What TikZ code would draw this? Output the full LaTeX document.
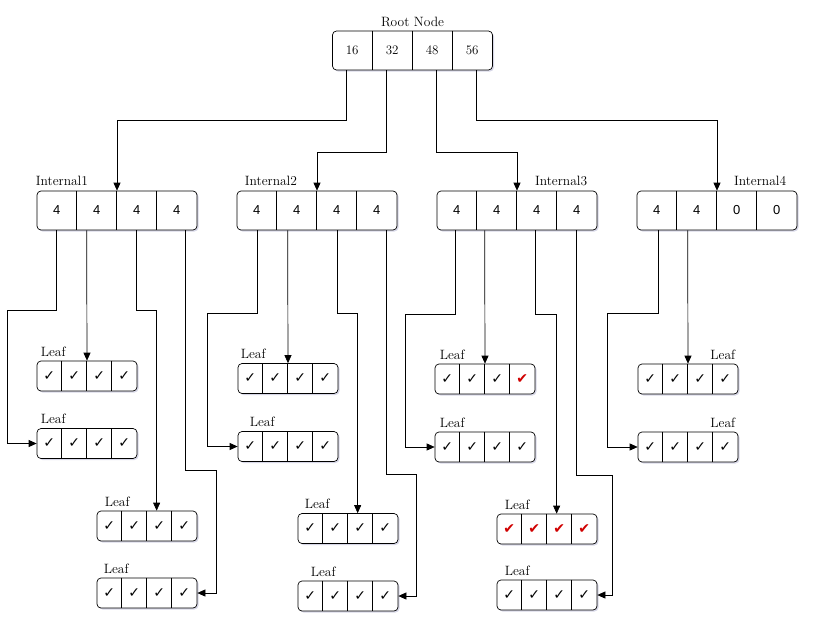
\documentclass[tikz,border=0pt]{standalone}
\usepackage{fontspec}
\newfontfamily\symfont{DejaVu Sans}
\newfontfamily\numfont{Liberation Sans}
\usetikzlibrary{positioning}
\usetikzlibrary{arrows.meta}
\usetikzlibrary{shadows}
\definecolor{hitred}{HTML}{D00000}
\newcommand{\ok}{{\symfont\char"2713}}
\newcommand{\hit}{{\symfont\color{hitred}\char"2714}}
% cells of a key box: node, cell width, cell style, entries
\newcommand{\cellrow}[4]{%
  \foreach \v [count=\k] in {#4} {
    \node[#3] (#1-\k) at ([xshift=(\k-0.5)*#2]#1.west) {\v};
    \ifnum\k>1 \draw[sep] ([xshift=(\k-1)*#2]#1.north west) -- ([xshift=(\k-1)*#2]#1.south west); \fi
  }}
\tikzstyle{box} = [draw, line width=0.7pt, rounded corners=4pt, inner sep=0pt, fill=white, drop shadow={opacity=0.25, shadow xshift=1.5pt, shadow yshift=-1.5pt, fill=blue!25!gray}]
\tikzstyle{keys} = [box, minimum width=160pt, minimum height=39pt]
\tikzstyle{leaf} = [box, minimum width=100pt, minimum height=30pt]
\tikzstyle{rootcell} = [inner sep=0pt, font=\fontsize{13}{15}\selectfont]
\tikzstyle{numcell} = [inner sep=0pt, font=\numfont\fontsize{13}{15}\selectfont]
\tikzstyle{okcell} = [inner sep=0pt, font=\fontsize{14}{16}\selectfont]
\tikzstyle{tag} = [inner sep=0pt, font=\fontsize{13.5}{16}\selectfont]
\tikzstyle{sep} = [draw, line width=0.7pt]
\tikzstyle{link} = [draw, line width=0.7pt, -{Triangle[length=8pt,width=7pt]}]

\begin{document}
\begin{tikzpicture}[x=1pt, y=-1pt]
    \useasboundingbox (0,0) rectangle (814,625);

    % root and internal nodes
    \node[keys] (root) at (412.5,50.5) {};
    \node[keys] (in1) at (117,210.5) {};
    \node[keys] (in2) at (317,210.5) {};
    \node[keys] (in3) at (517,210.5) {};
    \node[keys] (in4) at (717,210.5) {};
    \cellrow{root}{40pt}{rootcell}{16,32,48,56}
    \cellrow{in1}{40pt}{numcell}{4,4,4,4}
    \cellrow{in2}{40pt}{numcell}{4,4,4,4}
    \cellrow{in3}{40pt}{numcell}{4,4,4,4}
    \cellrow{in4}{40pt}{numcell}{4,4,0,0}

    \node[tag, above=4pt of root] (troot) {Root Node};
    \node[tag, above right=5pt and -1pt of in1.north west] (tin1) {Internal1};
    \node[tag, above right=5pt and 8pt of in2.north west] (tin2) {Internal2};
    \node[tag, above left=5pt and 10pt of in3.north east] (tin3) {Internal3};
    \node[tag, above left=5pt and 11pt of in4.north east] (tin4) {Internal4};

    % leaves
    \node[leaf] (l1a) at (87,376) {};
    \node[leaf] (l1b) at (87,443.5) {};
    \node[leaf] (l1c) at (147,526) {};
    \node[leaf] (l1d) at (147,593) {};
    \node[leaf] (l2a) at (288,378.5) {};
    \node[leaf] (l2b) at (288,446.5) {};
    \node[leaf] (l2c) at (348,528.5) {};
    \node[leaf] (l2d) at (348,596) {};
    \node[leaf] (l3a) at (485,379) {};
    \node[leaf] (l3b) at (485,447) {};
    \node[leaf] (l3c) at (547,529) {};
    \node[leaf] (l3d) at (547,595) {};
    \node[leaf] (l4a) at (688,379) {};
    \node[leaf] (l4b) at (688,447) {};
    \foreach \n in {l1a,l1b,l1c,l1d,l2a,l2b,l2c,l2d,l3b,l3d,l4a,l4b} {
        \cellrow{\n}{25pt}{okcell}{\ok,\ok,\ok,\ok}
    }
    \cellrow{l3a}{25pt}{okcell}{\ok,\ok,\ok,\hit}
    \cellrow{l3c}{25pt}{okcell}{\hit,\hit,\hit,\hit}

    \node[tag, above right=4pt and 4pt of l1a.north west] (tl1a) {Leaf};
    \node[tag, above right=4pt and 4pt of l1b.north west] (tl1b) {Leaf};
    \node[tag, above right=4pt and 8pt of l1c.north west] (tl1c) {Leaf};
    \node[tag, above right=4pt and 7pt of l1d.north west] (tl1d) {Leaf};
    \node[tag, above right=4pt and 3pt of l2a.north west] (tl2a) {Leaf};
    \node[tag, above right=4pt and 12pt of l2b.north west] (tl2b) {Leaf};
    \node[tag, above right=4pt and 7pt of l2c.north west] (tl2c) {Leaf};
    \node[tag, above right=4pt and 13pt of l2d.north west] (tl2d) {Leaf};
    \node[tag, above right=4pt and 5pt of l3a.north west] (tl3a) {Leaf};
    \node[tag, above right=4pt and 5pt of l3b.north west] (tl3b) {Leaf};
    \node[tag, above right=4pt and 8pt of l3c.north west] (tl3c) {Leaf};
    \node[tag, above right=4pt and 8pt of l3d.north west] (tl3d) {Leaf};
    \node[tag, above left=4pt and 3pt of l4a.north east] (tl4a) {Leaf};
    \node[tag, above left=4pt and 3pt of l4b.north east] (tl4b) {Leaf};

    % root -> internal
    \draw[link] ([xshift=14pt]root.south west) -- ++(0,50) -| (in1.north);
    \draw[link] ([xshift=54pt]root.south west) -- ++(0,82) -| (in2.north);
    \draw[link] ([xshift=104pt]root.south west) -- ++(0,82) -| (in3.north);
    \draw[link] ([xshift=144pt]root.south west) -- ++(0,50) -| (in4.north);

    % internal -> leaves
    \draw[link] ([xshift=20pt]in1.south west) -- ++(0,80) -- ++(-49,0) |- (l1b.west);
    \draw[link] ([xshift=50pt]in1.south west) -- (l1a.north);
    \draw[link] ([xshift=100pt]in1.south west) -- ++(0,80) -| ([xshift=60pt]l1c.north west);
    \draw[link] ([xshift=149pt]in1.south west) -- ++(0,240) -- ++(31,0) |- (l1d.east);

    \draw[link] ([xshift=21pt]in2.south west) -- ++(0,83) -- ++(-50,0) |- (l2b.west);
    \draw[link] ([xshift=51pt]in2.south west) -- (l2a.north);
    \draw[link] ([xshift=101pt]in2.south west) -- ++(0,83) -| ([xshift=60pt]l2c.north west);
    \draw[link] ([xshift=150pt]in2.south west) -- ++(0,244) -- ++(30,0) |- (l2d.east);

    \draw[link] ([xshift=19pt]in3.south west) -- ++(0,84) -- ++(-50,0) |- (l3b.west);
    \draw[link] ([xshift=48pt]in3.south west) -- (l3a.north);
    \draw[link] ([xshift=99pt]in3.south west) -- ++(0,84) -| ([xshift=60pt]l3c.north west);
    \draw[link] ([xshift=140pt]in3.south west) -- ++(0,245) -- ++(36,0) |- (l3d.east);

    \draw[link] ([xshift=22pt]in4.south west) -- ++(0,83) -- ++(-51,0) |- (l4b.west);
    \draw[link] ([xshift=51pt]in4.south west) -- (l4a.north);
\end{tikzpicture}
\end{document}
